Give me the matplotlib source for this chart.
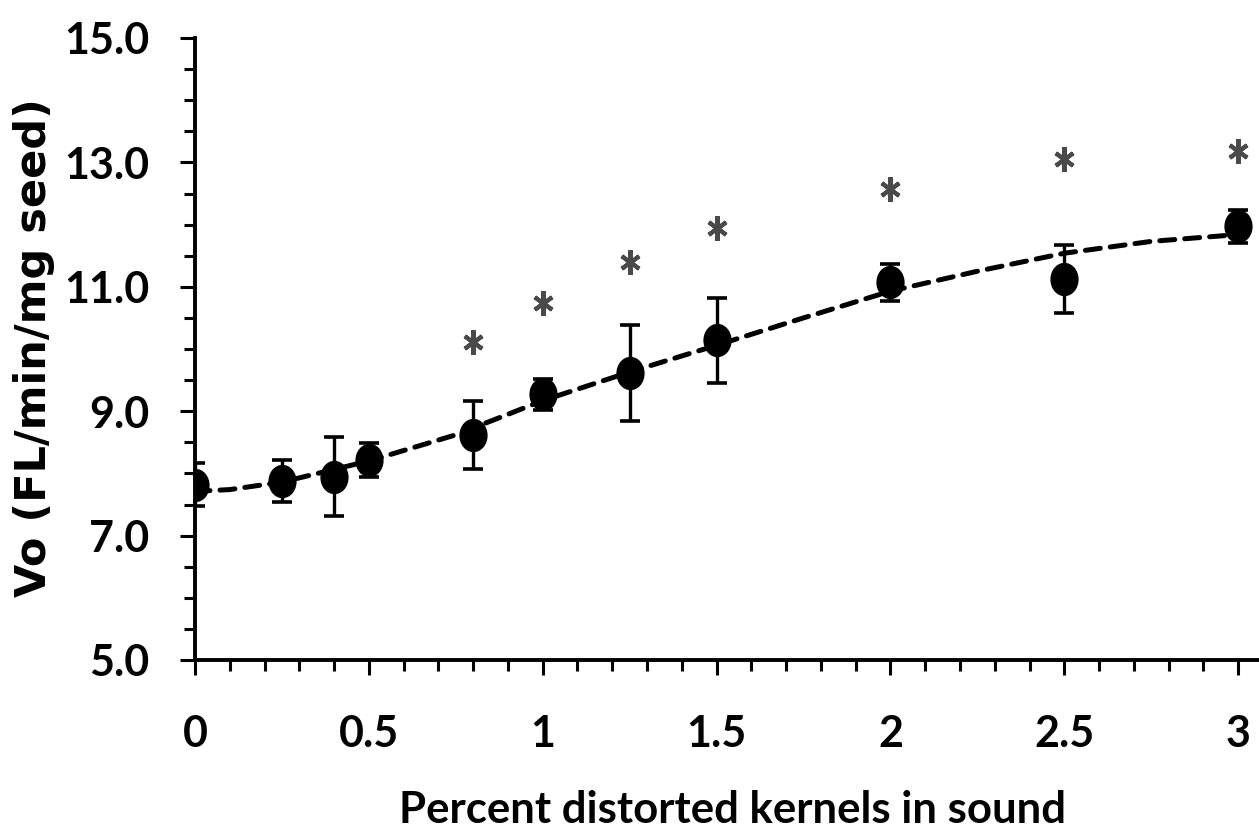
import matplotlib
matplotlib.use('Agg')
import matplotlib.pyplot as plt
from matplotlib.markers import MarkerStyle
from matplotlib.transforms import Affine2D
from matplotlib.ticker import MultipleLocator, FixedLocator

# measured points (mean +/- error)
pct = [0, 0.25, 0.4, 0.5, 0.8, 1.0, 1.25, 1.5, 2.0, 2.5, 3.0]
vo = [7.82, 7.88, 7.95, 8.22, 8.62, 9.27, 9.61, 10.14, 11.07, 11.13, 11.97]
vo_err = [0.35, 0.34, 0.64, 0.27, 0.55, 0.25, 0.77, 0.68, 0.30, 0.55, 0.26]

# significance stars
star_x = [0.8, 1.0, 1.25, 1.5, 2.0, 2.5, 3.0]
star_y = [10.11, 10.74, 11.40, 11.94, 12.58, 13.06, 13.18]

# dashed fitted curve
fit_x = [0, 0.1, 0.25, 0.5, 0.75, 1.0, 1.25, 1.5, 1.75, 2.0, 2.25, 2.5, 2.75, 3.0]
fit_y = [7.71, 7.74, 7.86, 8.20, 8.62, 9.17, 9.63, 10.06, 10.50, 10.93, 11.25, 11.54, 11.73, 11.84]

xticks = [0, 0.5, 1, 1.5, 2, 2.5, 3]
xticklabels = ['0', '0.5', '1', '1.5', '2', '2.5', '3']
yticks = [5, 7, 9, 11, 13, 15]
yticklabels = ['5.0', '7.0', '9.0', '11.0', '13.0', '15.0']

fig = plt.figure(figsize=(12.59, 8.34), dpi=100)
ax = fig.add_axes([195 / 1259, 1 - 660 / 834, 1 - 195 / 1259, (660 - 38) / 834])

ax.plot(fit_x, fit_y, color='black', lw=3.6, dashes=(3.0, 2.0),
        dash_capstyle='round', zorder=2)

oval = MarkerStyle('o', transform=Affine2D().scale(0.84, 1.0))
ax.errorbar(pct, vo, yerr=vo_err, fmt='none', ecolor='black', elinewidth=2.4,
            capsize=7, capthick=2.6, zorder=3)
ax.plot(pct, vo, linestyle='none', marker=oval, markersize=23,
        color='black', zorder=4)

star = MarkerStyle((6, 2, 0), transform=Affine2D().scale(0.8, 1.0))
ax.plot(star_x, star_y, linestyle='none', marker=star, markersize=18,
        markeredgewidth=3.0, color='#4a4a4a', zorder=4)

ax.set_xlim(0, 3.06)
ax.set_ylim(5, 15)

ax.spines['top'].set_visible(False)
ax.spines['right'].set_visible(False)
for s in ['left', 'bottom']:
    ax.spines[s].set_linewidth(2.8)

ax.xaxis.set_major_locator(FixedLocator(xticks))
ax.xaxis.set_minor_locator(MultipleLocator(0.1))
ax.yaxis.set_major_locator(FixedLocator(yticks))
ax.yaxis.set_minor_locator(MultipleLocator(0.5))
ax.set_xticklabels(xticklabels)
ax.set_yticklabels(yticklabels)

for lab in ax.get_xticklabels() + ax.get_yticklabels():
    lab.set_fontfamily('Lato')
    lab.set_fontweight('bold')
    lab.set_fontsize(31)

ax.tick_params(axis='both', which='major', direction='out', length=11, width=2.2)
ax.tick_params(axis='both', which='minor', direction='out', length=8, width=2.2)
ax.tick_params(axis='x', which='major', pad=28)
ax.tick_params(axis='y', which='major', pad=22)

fig.text(732 / 1259, 1 - 823 / 834, 'Percent distorted kernels in sound',
         ha='center', va='baseline', fontfamily='Lato', fontweight='bold', fontsize=31.5)
fig.text(34 / 1259, 1 - 348 / 834, 'Vo (FL/min/mg seed)', rotation=90,
         ha='center', va='center', fontfamily='DejaVu Sans', fontweight='bold', fontsize=31)

fig.savefig('out.png', dpi=100)
